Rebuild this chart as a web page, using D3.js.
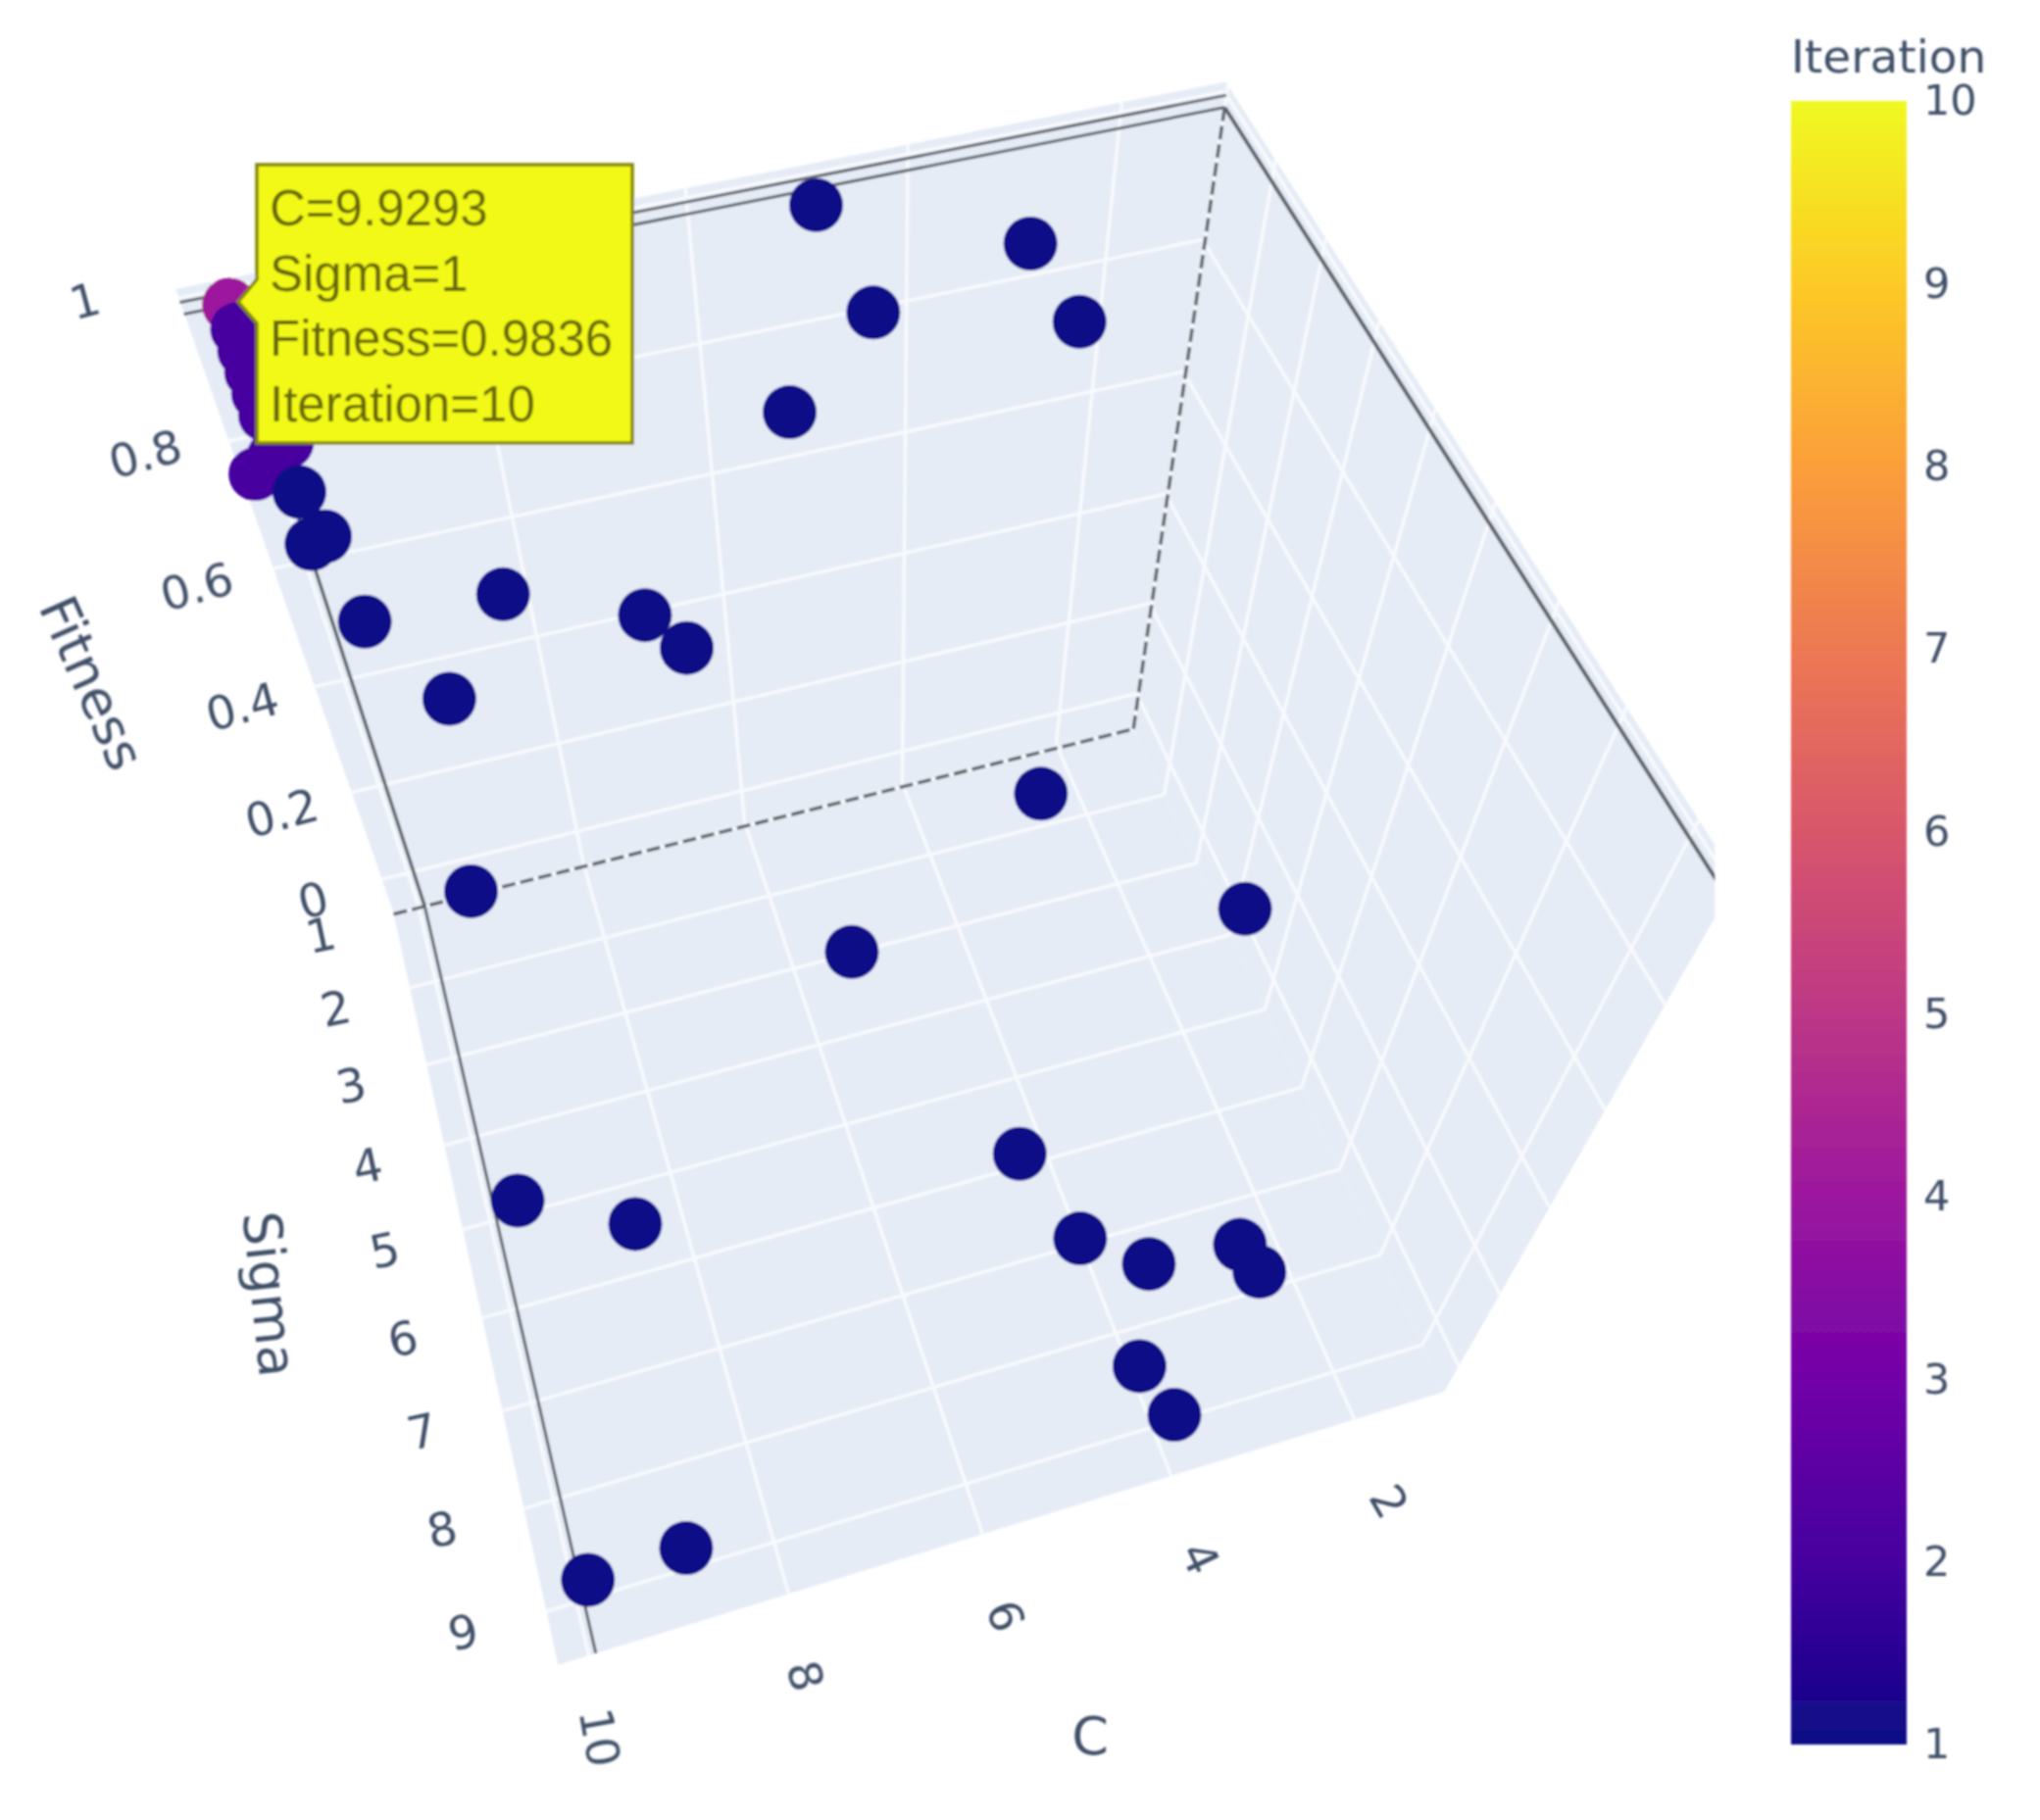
<!DOCTYPE html>
<html>
<head>
<meta charset="utf-8">
<style>
  body { margin: 0; background: #fff; }
  text { font-family: "DejaVu Sans", sans-serif; fill: #3f4f68; }
</style>
</head>
<body>
<script src="https://cdn.jsdelivr.net/npm/d3@7"></script>
<script>
// Data. Iterations 4..10 pile up at the hover corner, iteration 2 climbs the edge below it.
var cValues = [9.9293, 9.9293, 9.9293, 9.9293, 9.9293, 9.9293, 9.9293,
  9.93, 9.93, 9.93, 9.93, 9.93, 10.17, 9.97, 9.82,
  9.85, 9.89, 9.75,
  4.86, 3.12, 4.64, 2.87, 5.47, 8.30, 7.07, 6.76, 9.61, 9.03, 2.73, 9.35, 1.11, 5.45,
  4.55, 4.26, 3.67, 2.79, 2.66, 4.13, 3.96, 9.64, 8.54, 8.87, 9.83];
var sigmaValues = [1, 1, 1, 1, 1, 1, 1,
  1, 1, 1, 1, 1, 1, 1, 1,
  1, 1, 1,
  0.99, 1.70, 1.87, 2.31, 1.98, 1.85, 2.32, 2.60, 1.52, 1.85, 2.20, 1.39, 4.32, 3.51,
  6.39, 7.38, 7.79, 7.96, 8.21, 8.70, 9.21, 5.35, 5.89, 9.08, 9.07];
var fitnessValues = [0.9836, 0.9836, 0.9836, 0.9836, 0.9836, 0.9836, 0.9836,
  0.83, 0.86, 0.89, 0.92, 0.95, 0.75, 0.77, 0.787,
  0.71, 0.63, 0.637,
  0.96, 0.93, 0.9, 0.88, 0.8, 0.6, 0.58, 0.55, 0.56, 0.45, 0.04, 0, 0.05, 0.03,
  0.06, 0.05, 0.04, 0.07, 0.05, 0.03, 0.02, 0.04, 0.03, 0.02, 0.01];
var iterValues = [10, 9, 8, 7, 6, 5, 4,
  2, 2, 2, 2, 2, 2, 2, 2,
  1, 1, 1,
  1, 1, 1, 1, 1, 1, 1, 1, 1, 1, 1, 1, 1, 1,
  1, 1, 1, 1, 1, 1, 1, 1, 1, 1, 1];

var cTicks = [2, 4, 6, 8, 10];
var sigmaTicks = [1, 2, 3, 4, 5, 6, 7, 8, 9];
var fitnessTicks = [0, 0.2, 0.4, 0.6, 0.8, 1];
var iterTicks = [1, 2, 3, 4, 5, 6, 7, 8, 9, 10];
var plasma = ["#0d0887", "#46039f", "#7201a8", "#9c179e", "#bd3786", "#d8576b", "#ed7953", "#fb9f3a", "#fdca26", "#f0f921"];

// hovered point
var hoverC = 9.9293, hoverSigma = 1, hoverFitness = 0.9836, hoverIter = 10;

var svgWidth = 2081;
var svgHeight = 1857;
var k = svgWidth / 1568; // corners below were measured on the shrunk picture

// axis ranges of the scene box
var cMax = 10.3, cMin = 1, sMin = 0.95, sMax = 9.5, fMin = -0.07, fMax = 1.015;

// square -> quad perspective map
function quadMap(q) {
  var x0 = q[0][0], y0 = q[0][1], x1 = q[1][0], y1 = q[1][1], x2 = q[2][0], y2 = q[2][1], x3 = q[3][0], y3 = q[3][1];
  var dx1 = x1 - x2, dx2 = x3 - x2, sx = x0 - x1 + x2 - x3, dy1 = y1 - y2, dy2 = y3 - y2, sy = y0 - y1 + y2 - y3;
  var det = dx1 * dy2 - dx2 * dy1;
  var g = (sx * dy2 - dx2 * sy) / det, h = (dx1 * sy - sx * dy1) / det;
  var a = x1 - x0 + g * x1, b = x3 - x0 + h * x3, d = y1 - y0 + g * y1, e = y3 - y0 + h * y3;
  return function(u, v) {
    var w = g * u + h * v + 1;
    return [(a * u + b * v + x0) / w, (d * u + e * v + y0) / w];
  };
}

var floorMap = quadMap([[302, 700], [870, 558], [1110, 1070], [429, 1280]]);
var topMap = quadMap([[135, 222], [942, 63], [1335, 676], [313, 967]]);

var cScale = d3.scaleLinear().domain([cMax, cMin]).range([0, 1]);
var sigmaScale = d3.scaleLinear().domain([sMin, sMax]).range([0, 1]);
// fitness is foreshortened by the camera, so the scale is piecewise
var fitnessScale = d3.scaleLinear()
  .domain([fMin, 0, 0.2, 0.4, 0.6, 0.8, 1, fMax])
  .range([0, 0.05, 0.19, 0.36, 0.55, 0.755, 0.985, 1]);
var colorScale = d3.scaleLinear().domain(iterTicks).range(plasma);

function project(c, s, f) {
  var a = floorMap(cScale(c), sigmaScale(s));
  var b = topMap(cScale(c), sigmaScale(s));
  var g = fitnessScale(f);
  return [(a[0] + (b[0] - a[0]) * g) * k, (a[1] + (b[1] - a[1]) * g) * k];
}

var svg = d3.select("body")
  .append("svg")
  .attr("width", svgWidth)
  .attr("height", svgHeight);

// the reference is a soft, rescaled screenshot
var defs = svg.append("defs");
defs.append("filter")
  .attr("id", "soft")
  .attr("filterUnits", "userSpaceOnUse")
  .attr("x", 0).attr("y", 0)
  .attr("width", svgWidth).attr("height", svgHeight)
  .append("feGaussianBlur")
  .attr("stdDeviation", 0.9);
defs.append("clipPath")
  .attr("id", "scene-clip")
  .append("rect")
  .attr("width", 1318 * k)
  .attr("height", svgHeight);

var grad = defs.append("linearGradient")
  .attr("id", "plasma")
  .attr("x1", 0).attr("y1", 1)
  .attr("x2", 0).attr("y2", 0);
grad.selectAll("stop")
  .data(iterTicks)
  .enter()
  .append("stop")
  .attr("offset", (d, i) => i / (iterTicks.length - 1))
  .attr("stop-color", d => colorScale(d));

var root = svg.append("g").attr("filter", "url(#soft)");
var scene = root.append("g").attr("clip-path", "url(#scene-clip)");
var line = d3.line();

// Walls
var walls = [
  [project(cMax, sMin, fMin), project(cMin, sMin, fMin), project(cMin, sMax, fMin), project(cMax, sMax, fMin)],
  [project(cMax, sMin, fMin), project(cMin, sMin, fMin), project(cMin, sMin, fMax), project(cMax, sMin, fMax)],
  [project(cMin, sMin, fMin), project(cMin, sMax, fMin), project(cMin, sMax, fMax), project(cMin, sMin, fMax)]
];
scene.selectAll(".wall")
  .data(walls)
  .enter()
  .append("path")
  .attr("class", "wall")
  .attr("d", d => line(d) + "Z")
  .attr("fill", "#e5ecf6");

// Grid lines
var gridLines = [];
cTicks.forEach(function(c) {
  gridLines.push([project(c, sMin, fMin), project(c, sMax, fMin)]);
  gridLines.push([project(c, sMin, fMin), project(c, sMin, fMax)]);
});
sigmaTicks.forEach(function(s) {
  gridLines.push([project(cMax, s, fMin), project(cMin, s, fMin)]);
  gridLines.push([project(cMin, s, fMin), project(cMin, s, fMax)]);
});
fitnessTicks.forEach(function(f) {
  gridLines.push([project(cMax, sMin, f), project(cMin, sMin, f)]);
  gridLines.push([project(cMin, sMin, f), project(cMin, sMax, f)]);
});
scene.selectAll(".grid")
  .data(gridLines)
  .enter()
  .append("path")
  .attr("class", "grid")
  .attr("d", d => line(d))
  .attr("fill", "none")
  .attr("stroke", "#f8fafd")
  .attr("stroke-width", 3.5);

// Hover spikes
var spikes = [
  { pts: [project(hoverC, hoverSigma, fMax), project(hoverC, hoverSigma, fMin)], w: 3.5, dash: null },
  { pts: [project(hoverC, sMin, fMin), project(hoverC, sMax, fMin)], w: 3, dash: null },
  { pts: [project(cMax, hoverSigma, fMin), project(cMin, hoverSigma, fMin)], w: 3.5, dash: "14,5" },
  { pts: [project(cMin, hoverSigma, fMin), project(cMin, hoverSigma, hoverFitness)], w: 3.5, dash: "14,5" },
  { pts: [project(cMax, hoverSigma, hoverFitness), project(cMin, hoverSigma, hoverFitness)], w: 3, dash: null },
  { pts: [project(cMax, hoverSigma, 1), project(cMin, hoverSigma, 1)], w: 3, dash: null },
  { pts: [project(cMin, hoverSigma, hoverFitness), project(cMin, sMax, hoverFitness)], w: 4, dash: null }
];
scene.selectAll(".spike")
  .data(spikes)
  .enter()
  .append("path")
  .attr("class", "spike")
  .attr("d", d => line(d.pts))
  .attr("fill", "none")
  .attr("stroke", "#5c6067")
  .attr("stroke-width", d => d.w)
  .attr("stroke-dasharray", d => d.dash);

// Scatter
scene.selectAll("circle")
  .data(cValues)
  .enter()
  .append("circle")
  .attr("cx", (d, i) => project(cValues[i], sigmaValues[i], fitnessValues[i])[0])
  .attr("cy", (d, i) => project(cValues[i], sigmaValues[i], fitnessValues[i])[1])
  .attr("r", 27.5)
  .attr("fill", (d, i) => colorScale(iterValues[i]));

// Tick labels
function tickLabel(x, y, angle, str, size) {
  root.append("text")
    .attr("transform", `translate(${x}, ${y}) rotate(${angle})`)
    .attr("text-anchor", "middle")
    .attr("dominant-baseline", "central")
    .attr("font-size", size)
    .text(str);
}

fitnessTicks.forEach(function(f) {
  var p = project(cMax, sMin, f);
  var g = fitnessScale(f);
  tickLabel(p[0] + (-53 - 20 * g * g) * k, p[1] + (16 - 15 * g * g * g) * k, -15, f, 47);
});
sigmaTicks.forEach(function(s) {
  var p = project(cMax, s, fMin);
  tickLabel(p[0] + (-55 - s) * k, p[1] + 16 * k, -12, s, 47);
});
cTicks.forEach(function(c) {
  var p = project(c, sMax, fMin);
  tickLabel(p[0] + (31 - 2.2 * c) * k, p[1] + 63 * k, 55 + 2.5 * c, c, 47);
});

// Axis titles
tickLabel(71 * k, 525 * k, 66, "Fitness", 54);
tickLabel(207 * k, 995 * k, 84, "Sigma", 54);
tickLabel(838 * k, 1335 * k, 0, "C", 54);

// Colorbar
var barLeft = 1827, barRight = 1945, barTop = 103, barBottom = 1780;
var barScale = d3.scaleLinear().domain([1, 10]).range([barBottom, barTop]);

root.append("rect")
  .attr("x", barLeft)
  .attr("y", barTop)
  .attr("width", barRight - barLeft)
  .attr("height", barBottom - barTop)
  .attr("fill", "url(#plasma)");

var barAxis = root.append("g")
  .attr("transform", `translate(${barRight}, 0)`)
  .call(d3.axisRight(barScale).tickValues(iterTicks).tickSize(0).tickPadding(17));
barAxis.select(".domain").remove();
barAxis.selectAll("text")
  .attr("font-size", 43)
  .style("font-family", '"DejaVu Sans", sans-serif')
  .style("fill", "#3f4f68");

root.append("text")
  .attr("x", barLeft)
  .attr("y", 74)
  .attr("font-size", 47)
  .text("Iteration");

// Hover box
var box = root.append("g");
box.append("path")
  .attr("d", line([[262, 168], [645, 168], [645, 452], [262, 452], [262, 330], [243, 308], [262, 285]]) + "Z")
  .attr("fill", "#f2f912")
  .attr("stroke", "#85880f")
  .attr("stroke-width", 3.5);

var hoverLines = ["C=" + hoverC, "Sigma=" + hoverSigma, "Fitness=" + hoverFitness, "Iteration=" + hoverIter];
box.selectAll("text")
  .data(hoverLines)
  .enter()
  .append("text")
  .attr("x", 275)
  .attr("y", (d, i) => 230 + i * 66.5)
  .attr("font-size", 51)
  .style("font-family", '"Liberation Sans", sans-serif')
  .style("fill", "#66680d")
  .text(d => d);
</script>
</body>
</html>
